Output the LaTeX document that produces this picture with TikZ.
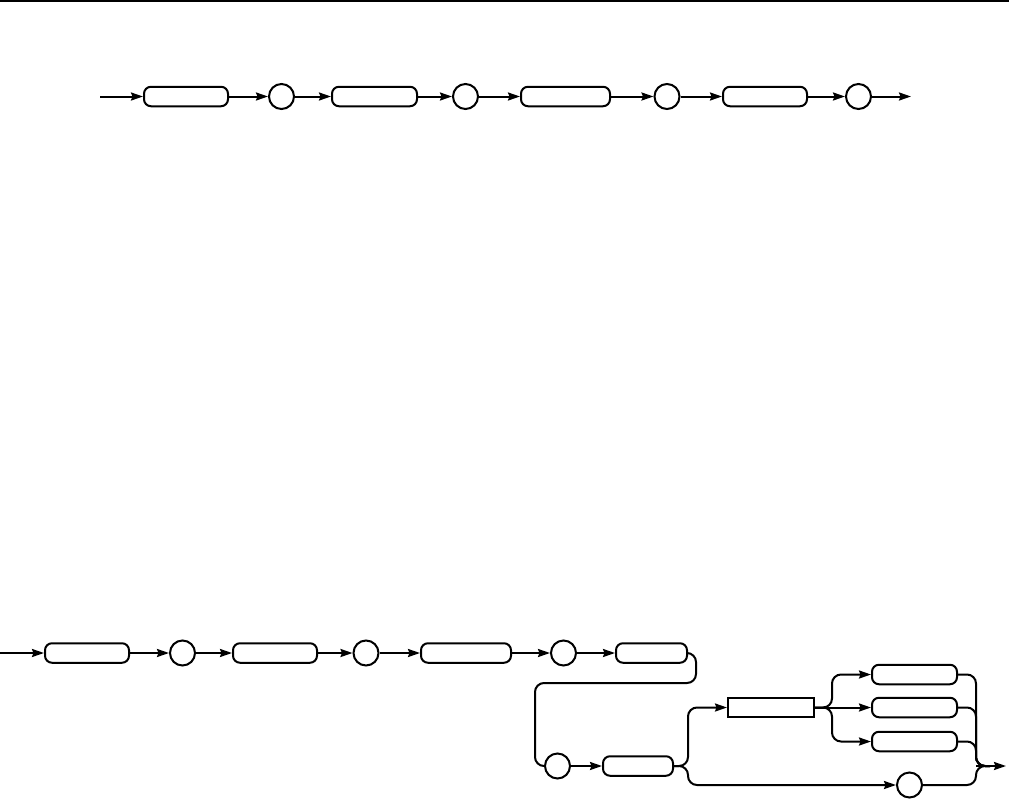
\documentclass[tikz,border=0pt]{standalone}
\usetikzlibrary{arrows.meta}
\begin{document}
\begin{tikzpicture}[x=1pt,y=-1pt,line width=2pt,
  rbox/.style={draw,rectangle,rounded corners=7pt,minimum height=19.5pt,inner sep=0pt},
  sbox/.style={draw,rectangle,minimum height=19pt,inner sep=0pt},
  rnd/.style={draw,circle,minimum size=25pt,inner sep=0pt},
  arr/.style={-{Stealth[length=12pt,width=8pt,inset=1.5pt]}},
  conn/.style={rounded corners=9pt}]
\useasboundingbox (0,0) rectangle (1009,798);
\draw[line width=2pt] (0,1) -- (1009,1);
% top row
\coordinate (tstart) at (100,96.5);
\node[rbox,minimum width=84pt] (t1) at (186,96.5) {};
\node[rnd] (tc1) at (281.5,96.5) {};
\node[rbox,minimum width=85pt] (t2) at (374.5,96.5) {};
\node[rnd] (tc2) at (465.5,96.5) {};
\node[rbox,minimum width=89pt] (t3) at (565.5,96.5) {};
\node[rnd] (tc3) at (667,96.5) {};
\node[rbox,minimum width=84pt] (t4) at (765,96.5) {};
\node[rnd] (tc4) at (858.5,96.5) {};
\coordinate (tend) at (911,96.5);
\draw[arr] (tstart) -- (t1);
\draw[arr] (t1) -- (tc1);
\draw[arr] (tc1) -- (t2);
\draw[arr] (t2) -- (tc2);
\draw[arr] (tc2) -- (t3);
\draw[arr] (t3) -- (tc3);
\draw[arr] (tc3) -- (t4);
\draw[arr] (t4) -- (tc4);
\draw[arr] (tc4) -- (tend);
% bottom diagram
\coordinate (bstart) at (0,653);
\node[rbox,minimum width=84pt] (b1) at (87,653) {};
\node[rnd] (bc1) at (182.5,653) {};
\node[rbox,minimum width=84pt] (b2) at (275,653) {};
\node[rnd] (bc2) at (366,653) {};
\node[rbox,minimum width=90pt] (b3) at (466,653) {};
\node[rnd] (bc3) at (563.5,653) {};
\node[rbox,minimum width=71pt] (b4) at (651.5,653) {};
\node[rnd] (bc4) at (557.5,766) {};
\node[rbox,minimum width=70pt] (b5) at (638,766) {};
\node[sbox,minimum width=86pt] (r1) at (771,707.5) {};
\node[rbox,minimum width=85pt] (o1) at (914.5,674.5) {};
\node[rbox,minimum width=85pt] (o2) at (914.5,707.5) {};
\node[rbox,minimum width=85pt] (o3) at (914.5,741.5) {};
\node[rnd] (bc5) at (909.5,785) {};
\coordinate (split1) at (688,766);
\coordinate (split2) at (832,707.5);
\coordinate (merge) at (976,766);
\coordinate (mergeend) at (990,766);
\coordinate (exit) at (1006,766);
\draw[arr] (bstart) -- (b1);
\draw[arr] (b1) -- (bc1);
\draw[arr] (bc1) -- (b2);
\draw[arr] (b2) -- (bc2);
\draw[arr] (bc2) -- (b3);
\draw[arr] (b3) -- (bc3);
\draw[arr] (bc3) -- (b4);
\draw[conn] (b4.east) -- (696,653) -- (696,683) -- (535,683) -- (535,766) -- (bc4.west);
\draw[arr] (bc4) -- (b5);
\draw[arr,conn] (b5.east) -- (split1) |- (r1.west);
\draw[arr,conn] (b5.east) -- (split1) |- (bc5.west);
\draw[arr,conn] (r1.east) -- (split2) |- (o1.west);
\draw[arr] (r1.east) -- (o2.west);
\draw[arr,conn] (r1.east) -- (split2) |- (o3.west);
\draw[conn] (o1.east) -| (merge) -- (mergeend);
\draw[conn] (o2.east) -| (merge) -- (mergeend);
\draw[conn] (o3.east) -| (merge) -- (mergeend);
\draw[conn] (bc5.east) -| (merge) -- (mergeend);
\draw[arr] (merge) -- (exit);
\end{tikzpicture}
\end{document}
